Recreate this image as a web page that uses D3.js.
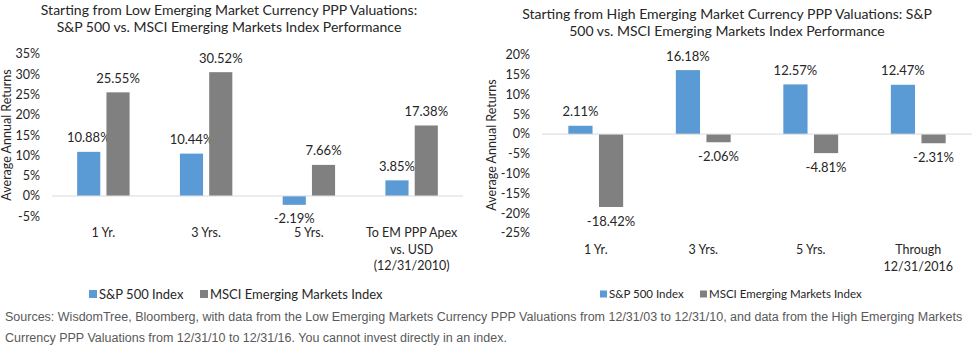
<html lang="en">
  <head>
    <meta charset="utf-8">
    <title>EM Currency PPP Valuations</title>
    <script src="https://d3js.org/d3.v7.min.js"></script>
    <style>
      body { margin: 0; background: #fff; }
      text { font-family: Lato, "Noto Sans", sans-serif; fill: #262626; }
    </style>
  </head>
  <body>
    <div id="viz"></div>
    <script type="text/javascript">
    // data
    var seriesNames = ["S&P 500 Index", "MSCI Emerging Markets Index"];
    var colors = ["#5B9BD5", "#808080"];

    var lowCategories = [["1 Yr."], ["3 Yrs."], ["5 Yrs."], ["To EM PPP Apex", "vs. USD", "(12/31/2010)"]];
    var lowSP = [10.88, 10.44, -2.19, 3.85];
    var lowMSCI = [25.55, 30.52, 7.66, 17.38];
    var lowTicks = [-5, 0, 5, 10, 15, 20, 25, 30, 35];

    var highCategories = [["1 Yr."], ["3 Yrs."], ["5 Yrs."], ["Through", "12/31/2016"]];
    var highSP = [2.11, 16.18, 12.57, 12.47];
    var highMSCI = [-18.42, -2.06, -4.81, -2.31];
    var highTicks = [-25, -20, -15, -10, -5, 0, 5, 10, 15, 20];

    var sourceLines = [
      "Sources: WisdomTree, Bloomberg, with data from the Low Emerging Markets Currency PPP Valuations from 12/31/03 to 12/31/10, and data from the High Emerging Markets",
      "Currency PPP Valuations from 12/31/10 to 12/31/16. You cannot invest directly in an index."
    ];

    var w = 978, h = 350;
    var svg = d3.select("#viz").append("svg")
      .attr("width", w)
      .attr("height", h);

    function drawPanel(cfg) {
      var g = svg.append("g");
      var x = d3.scaleBand()
        .domain(d3.range(cfg.categories.length))
        .range([cfg.left, cfg.right]);
      var y = d3.scaleLinear()
        .domain([cfg.ticks[0], cfg.ticks[cfg.ticks.length - 1]])
        .range([cfg.bottom, cfg.top]);
      var half = x.bandwidth() * 0.255;
      var sub = d3.scaleBand().domain([0, 1]).range([-half, half]).paddingInner(0.21);

      // title
      g.append("text")
        .attr("x", cfg.titleX)
        .attr("text-anchor", "middle")
        .style("font-size", "14px")
        .selectAll("tspan")
        .data(cfg.title)
        .enter().append("tspan")
        .attr("x", cfg.titleX)
        .attr("y", function(d, i) { return cfg.titleY + i * 17; })
        .attr("dy", "0.35em")
        .text(function(d) { return d; });

      // y axis tick labels
      g.selectAll(".ytick")
        .data(cfg.ticks)
        .enter().append("text")
        .attr("x", cfg.left - 12)
        .attr("y", function(d) { return y(d); })
        .attr("dy", "0.35em")
        .attr("text-anchor", "end")
        .style("font-size", "12.5px")
        .text(function(d) { return d + "%"; });

      // y axis title
      g.append("text")
        .attr("transform", "translate(" + cfg.yTitleX + "," + cfg.yTitleY + ") rotate(-90)")
        .attr("dy", "0.35em")
        .attr("text-anchor", "middle")
        .style("font-size", "12.5px")
        .text("Average Annual Returns");

      // bars
      var series = [cfg.sp, cfg.msci];
      series.forEach(function(vals, s) {
        g.selectAll(".bar" + s)
          .data(vals)
          .enter().append("rect")
          .attr("x", function(d, i) { return x(i) + x.bandwidth() / 2 + sub(s); })
          .attr("width", sub.bandwidth())
          .attr("y", function(d) { return y(Math.max(0, d)); })
          .attr("height", function(d) { return Math.abs(y(d) - y(0)); })
          .attr("fill", colors[s]);

        g.selectAll(".lab" + s)
          .data(vals)
          .enter().append("text")
          .attr("x", function(d, i) { return x(i) + x.bandwidth() / 2 + sub(s) + sub.bandwidth() / 2; })
          .attr("y", function(d) { return d >= 0 ? y(d) - 14 : y(d) + 14; })
          .attr("dy", "0.35em")
          .attr("text-anchor", "middle")
          .style("font-size", "13px")
          .text(function(d) { return d.toFixed(2) + "%"; });
      });

      // zero line
      g.append("line")
        .attr("x1", cfg.left).attr("x2", cfg.right)
        .attr("y1", y(0)).attr("y2", y(0))
        .attr("stroke", "#d9d9d9")
        .attr("stroke-width", 1);

      // category labels
      cfg.categories.forEach(function(lines, i) {
        g.append("text")
          .attr("text-anchor", "middle")
          .style("font-size", "12.5px")
          .selectAll("tspan")
          .data(lines)
          .enter().append("tspan")
          .attr("x", x(i) + x.bandwidth() / 2)
          .attr("y", function(d, j) { return cfg.catY + j * 16.5; })
          .attr("dy", "0.35em")
          .text(function(d) { return d; });
      });

      // legend
      seriesNames.forEach(function(name, s) {
        g.append("rect")
          .attr("x", cfg.legendX[s])
          .attr("y", cfg.legendY - cfg.legendBox / 2)
          .attr("width", cfg.legendBox)
          .attr("height", cfg.legendBox)
          .attr("fill", colors[s]);
        g.append("text")
          .attr("x", cfg.legendX[s] + cfg.legendBox + 2)
          .attr("y", cfg.legendY)
          .attr("dy", "0.35em")
          .style("font-size", cfg.legendFont)
          .text(name);
      });
    }

    drawPanel({
      categories: lowCategories, sp: lowSP, msci: lowMSCI, ticks: lowTicks,
      left: 52, right: 463, top: 54, bottom: 216.25,
      title: ["Starting from Low Emerging Market Currency PPP Valuations:",
              "S&P 500 vs. MSCI Emerging Markets Index Performance"],
      titleX: 229, titleY: 10,
      yTitleX: 7, yTitleY: 135,
      catY: 233,
      legendX: [89, 200], legendY: 294, legendBox: 8, legendFont: "13px"
    });

    drawPanel({
      categories: highCategories, sp: highSP, msci: highMSCI, ticks: highTicks,
      left: 542, right: 972, top: 55, bottom: 233,
      title: ["Starting from High Emerging Market Currency PPP Valuations: S&P",
              "500  vs. MSCI Emerging Markets Index Performance"],
      titleX: 727, titleY: 14,
      yTitleX: 492, yTitleY: 145,
      catY: 250,
      legendX: [600, 700], legendY: 294, legendBox: 7, legendFont: "11.5px"
    });

    // sources footnote
    svg.append("g").selectAll("text")
      .data(sourceLines)
      .enter().append("text")
      .attr("x", 5)
      .attr("y", function(d, i) { return 317 + i * 21; })
      .attr("dy", "0.35em")
      .style("font-family", "'Liberation Sans Narrow', 'Arial Narrow', 'Liberation Sans', sans-serif")
      .style("font-size", "12.5px")
      .style("fill", "#595959")
      .text(function(d) { return d; });
    </script>
  </body>
</html>
